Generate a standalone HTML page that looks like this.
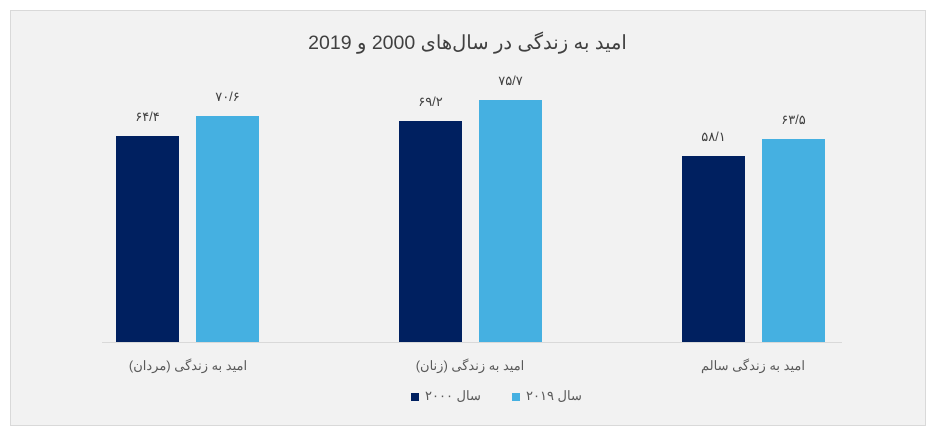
<!DOCTYPE html>
<html><head><meta charset="utf-8"><style>
body{margin:0;width:935px;height:441px;background:#fff;position:relative;overflow:hidden;font-family:"Liberation Sans","Noto Sans CJK SC",sans-serif}
.box{position:absolute;left:10px;top:10px;width:914px;height:414px;background:#f2f2f2;border:1px solid #d9d9d9}
.t{position:absolute;white-space:nowrap;color:#595959}
.b{position:absolute;width:63px}
.d{background:#002060}.l{background:#45b0e1}
.v{position:absolute;width:63px;text-align:center;font-size:13px;color:#404040}
</style></head><body>
<div class="box"></div>
<div class="t" style="left:0;width:935px;text-align:center;top:31px;font-size:19.5px;color:#404040" dir="rtl">امید به زندگی در سال‌های 2000 و 2019</div>
<div style="position:absolute;left:102px;top:342px;width:740px;height:1px;background:#d9d9d9"></div>
<div class="b d" style="left:116px;top:136px;height:206px"></div>
<div class="b l" style="left:196px;top:116px;height:226px"></div>
<div class="b d" style="left:399px;top:121px;height:221px"></div>
<div class="b l" style="left:479px;top:100px;height:242px"></div>
<div class="b d" style="left:682px;top:156px;height:186px"></div>
<div class="b l" style="left:762px;top:139px;height:203px"></div>
<div class="v" style="left:116px;top:109px">۶۴/۴</div>
<div class="v" style="left:196px;top:89px">۷۰/۶</div>
<div class="v" style="left:399px;top:94px">۶۹/۲</div>
<div class="v" style="left:479px;top:73px">۷۵/۷</div>
<div class="v" style="left:682px;top:129px">۵۸/۱</div>
<div class="v" style="left:762px;top:112px">۶۳/۵</div>
<div class="t" style="left:128px;width:120px;text-align:center;top:358px;font-size:13px" dir="rtl">امید به زندگی (مردان)</div>
<div class="t" style="left:410px;width:120px;text-align:center;top:358px;font-size:13px" dir="rtl">امید به زندگی (زنان)</div>
<div class="t" style="left:693px;width:120px;text-align:center;top:358px;font-size:13px" dir="rtl">امید به زندگی سالم</div>
<div style="position:absolute;left:411px;top:393px;width:8px;height:8px;background:#002060"></div>
<div class="t" style="left:425px;top:388px;font-size:13px" dir="rtl">سال ۲۰۰۰</div>
<div style="position:absolute;left:512px;top:393px;width:8px;height:8px;background:#45b0e1"></div>
<div class="t" style="left:526px;top:388px;font-size:13px" dir="rtl">سال ۲۰۱۹</div>
</body></html>
